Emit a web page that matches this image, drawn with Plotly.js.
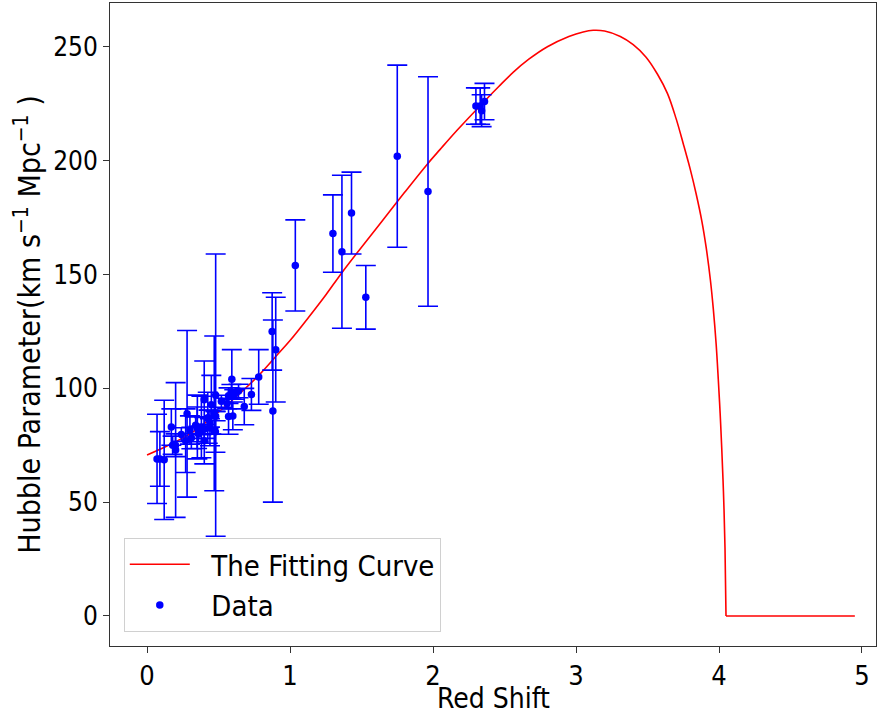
<!DOCTYPE html>
<html>
<head>
<meta charset="utf-8">
<script src="https://cdn.plot.ly/plotly-3.0.1.min.js"></script>
<style>html,body{margin:0;padding:0;background:#fff;}#chart{width:879px;height:718px;}</style>
</head>
<body>
<div id="chart"></div>
<script>
// Observational Hubble data: redshift, H(z), 1-sigma error
const dataZ = [0.07, 0.09, 0.12, 0.17, 0.179, 0.199, 0.2, 0.24, 0.27, 0.28, 0.3, 0.31, 0.34, 0.35, 0.352, 0.36, 0.38, 0.3802, 0.4, 0.4, 0.4004, 0.4247, 0.43, 0.44, 0.44, 0.4497, 0.47, 0.4783, 0.48, 0.48, 0.52, 0.56, 0.57, 0.57, 0.59, 0.593, 0.6, 0.61, 0.64, 0.68, 0.73, 0.781, 0.875, 0.88, 0.9, 1.037, 1.3, 1.363, 1.43, 1.53, 1.75, 1.965, 2.3, 2.33, 2.34, 2.36];
const dataH = [69, 69, 68.6, 83, 75, 75, 72.9, 79.69, 77, 88.8, 81.7, 78.17, 83.8, 82.7, 83, 79.93, 81.5, 83, 95, 82.04, 77, 87.1, 86.45, 82.6, 84.81, 92.8, 89, 80.9, 97, 87.79, 94.35, 93.34, 87.6, 96.8, 98.48, 104, 87.9, 97.3, 98.82, 92, 97.3, 105, 125, 90, 117, 154, 168, 160, 177, 140, 202, 186.5, 224, 224, 222, 226];
const dataErr = [19.6, 12, 26.2, 8, 4, 5, 29.6, 2.99, 14, 36.6, 6.22, 4.74, 3.66, 9.1, 14, 3.39, 1.9, 13.5, 17, 2.03, 10.2, 11.2, 3.97, 7.8, 1.83, 12.9, 34, 9, 62, 2.03, 2.64, 2.3, 7.8, 3.4, 3.18, 13, 6.1, 2.1, 2.98, 8, 7, 12, 17, 40, 23, 20, 17, 33.6, 18, 14, 40, 50.4, 8, 8, 7, 8];

// Fitting curve values (rising/falling part)
const fitZ = [0.00, 0.15, 0.30, 0.45, 0.60, 0.77, 0.90, 1.00, 1.14, 1.25, 1.36, 1.50, 1.65, 1.80, 1.96, 2.05, 2.17, 2.35, 2.46, 2.56, 2.67, 2.80, 2.95, 3.05, 3.12, 3.20, 3.31, 3.40, 3.49, 3.57, 3.64, 3.70, 3.75, 3.80, 3.84, 3.88, 3.91, 3.94, 3.96, 3.98, 3.995, 4.008, 4.019, 4.028, 4.035, 4.042, 4.049];
const fitH = [70.7, 75, 80, 87, 95, 105, 114, 121, 132, 141, 150.6, 162, 174, 186, 198.5, 205, 213.5, 225.5, 232.6, 238.8, 244.6, 250.1, 254.6, 256.6, 257.3, 257, 254.6, 251, 245.5, 238, 229.5, 218.5, 207.5, 196, 185.5, 173.5, 162, 147.5, 135, 119.5, 104, 89, 74, 60, 47, 30, 0];
// Flat tail of the fitting curve
const tailZ = [4.049, 4.95];
const tailH = [0, 0];

const xTicks = [0, 1, 2, 3, 4, 5];
const yTicks = [0, 50, 100, 150, 200, 250];

const FONT = 'DejaVu Sans Condensed, DejaVu Sans';

const traces = [
  {
    x: fitZ, y: fitH, type: 'scatter', mode: 'lines',
    name: '\u00a0\u00a0The Fitting Curve', legendgroup: 'fit',
    line: {color: '#ff0000', width: 1.6, shape: 'spline', smoothing: 1}
  },
  {
    x: tailZ, y: tailH, type: 'scatter', mode: 'lines',
    name: 'tail', legendgroup: 'fit', showlegend: false,
    line: {color: '#ff0000', width: 1.6}
  },
  {
    x: dataZ, y: dataH, type: 'scatter', mode: 'markers',
    name: '\u00a0\u00a0Data',
    marker: {color: '#0000ff', size: 7.5},
    error_y: {type: 'data', array: dataErr, visible: true, color: '#0000ff', thickness: 1.6, width: 10}
  }
];

const layout = {
  width: 879, height: 718,
  margin: {l: 110, r: 3, t: 3, b: 72},
  paper_bgcolor: '#fff', plot_bgcolor: '#fff',
  font: {family: FONT, color: '#000'},
  showlegend: true,
  legend: {
    x: 0.018, y: 0.022, xanchor: 'left', yanchor: 'bottom',
    bgcolor: 'rgba(255,255,255,0.8)', bordercolor: '#d0d0d0', borderwidth: 1,
    font: {family: FONT, size: 29, color: '#000'},
    tracegroupgap: 0, itemwidth: 60
  },
  xaxis: {
    range: [-0.259, 5.098], tickvals: xTicks, ticktext: xTicks.map(String),
    showgrid: false, zeroline: false,
    showline: true, mirror: true, linecolor: '#333', linewidth: 1,
    ticks: 'outside', ticklen: 6, tickcolor: '#333',
    tickfont: {family: FONT, size: 27, color: '#000'}
  },
  yaxis: {
    range: [-13.2, 269.3], tickvals: yTicks, ticktext: yTicks.map(String),
    showgrid: false, zeroline: false,
    showline: true, mirror: true, linecolor: '#333', linewidth: 1,
    ticks: 'outside', ticklen: 6, tickcolor: '#333',
    tickfont: {family: FONT, size: 26, color: '#000'},
    title: {text: 'Hubble Parameter(km s<sup>\u22121</sup> Mpc<sup>\u22121</sup> )', font: {family: FONT, size: 30, color: '#000'}, standoff: 3}
  },
  annotations: [{
    text: 'Red Shift', xref: 'paper', yref: 'paper', x: 0.5, y: -0.081,
    xanchor: 'center', yanchor: 'middle', showarrow: false,
    font: {family: FONT, size: 28, color: '#000'}
  }]
};

Plotly.newPlot('chart', traces, layout, {displayModeBar: false, staticPlot: true});
</script>
</body>
</html>
